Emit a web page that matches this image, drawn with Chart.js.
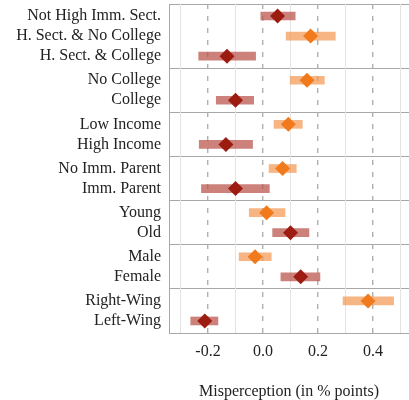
<!DOCTYPE html>
<html>
<head>
<meta charset="UTF-8">
<title>Misperception by group</title>
<script src="https://cdn.jsdelivr.net/npm/chart.js"></script>
<style>html,body{margin:0;background:#fff}</style>
</head>
<body>
<canvas id="c" width="409" height="400"></canvas>
<script>
// rows, top to bottom, and how many rows belong to each block
const categories = [
  'Not High Imm. Sect.', 'H. Sect. & No College', 'H. Sect. & College',
  'No College', 'College',
  'Low Income', 'High Income',
  'No Imm. Parent', 'Imm. Parent',
  'Young', 'Old',
  'Male', 'Female',
  'Right-Wing', 'Left-Wing'
];
const groupSizes = [3, 2, 2, 2, 2, 2, 2];
// 1 = orange series, 0 = dark red series
const series = [0, 1, 0, 1, 0, 1, 0, 1, 0, 1, 0, 1, 0, 1, 0];
const estimate = [0.053, 0.173, -0.131, 0.160, -0.100, 0.092, -0.135, 0.071, -0.100, 0.013, 0.100, -0.029, 0.137, 0.382, -0.212];
const ciLow    = [-0.008, 0.084, -0.234, 0.099, -0.170, 0.040, -0.232, 0.022, -0.224, -0.050, 0.035, -0.087, 0.065, 0.291, -0.263];
const ciHigh   = [0.117, 0.263, -0.027, 0.223, -0.034, 0.143, -0.038, 0.121, 0.023, 0.080, 0.167, 0.030, 0.207, 0.475, -0.164];
const xTicks = [-0.3, -0.2, -0.1, 0.0, 0.1, 0.2, 0.3, 0.4, 0.5];
const xTickLabels = ['', '-0.2', '', '0.0', '', '0.2', '', '0.4', ''];

// row positions on the y scale, with a bit of extra room between blocks
const GAP = 0.2;
const rowPos = [];
const separators = [-0.6];
let p = 0;
groupSizes.forEach(n => {
  for (let i = 0; i < n; i++) { rowPos.push(p); p += 1; }
  separators.push(p - 1 + 0.6);
  p += GAP;
});
const yMin = -0.6, yMax = separators[separators.length - 1];

const colors = {
  1: {bar: 'rgba(245,150,80,0.7)', dot: '#f07a1c'},
  0: {bar: 'rgba(185,80,72,0.72)', dot: '#9c1c12'}
};

function rowsOf(s) {
  return categories.map((_, i) => i).filter(i => series[i] === s);
}

Chart.defaults.font.family = "'Liberation Serif', serif";
Chart.defaults.color = '#222';

const isEven = v => Math.abs(Math.round(v * 10)) % 2 === 0;
const isSep = v => separators.some(s => Math.abs(s - v) < 1e-6);

new Chart(document.getElementById('c'), {
  data: {
    datasets: [0, 1].map(s => ({
      type: 'bar',
      data: rowsOf(s).map(i => ({y: rowPos[i], x: [ciLow[i], ciHigh[i]]})),
      backgroundColor: colors[s].bar,
      borderWidth: 0, barThickness: 8, grouped: false, order: 2
    })).concat([0, 1].map(s => ({
      type: 'scatter',
      data: rowsOf(s).map(i => ({y: rowPos[i], x: estimate[i]})),
      pointStyle: 'rectRot', pointRadius: 7.5,
      backgroundColor: colors[s].dot, borderWidth: 0, order: 1
    })))
  },
  options: {
    responsive: false,
    animation: false,
    indexAxis: 'y',
    layout: {autoPadding: false, padding: {top: 4, right: 0, bottom: 0, left: 0}},
    plugins: {legend: {display: false}, tooltip: {enabled: false}},
    scales: {
      y: {
        type: 'linear', reverse: true, min: yMin, max: yMax, offset: false,
        afterBuildTicks: sc => {
          sc.ticks = rowPos.concat(separators).sort((a, b) => a - b).map(v => ({value: v}));
        },
        afterFit: sc => { sc.width = 169; sc.paddingTop = 0; sc.paddingBottom = 0; },
        ticks: {
          autoSkip: false, padding: 8, font: {size: 16},
          callback: v => {
            const i = rowPos.findIndex(r => Math.abs(r - v) < 1e-6);
            return i >= 0 ? categories[i] : '';
          }
        },
        grid: {
          offset: false, drawTicks: false, lineWidth: 1,
          color: ctx => (ctx.tick && isSep(ctx.tick.value)) ? '#a8a8a8' : 'rgba(0,0,0,0)'
        },
        border: {display: true, color: '#a8a8a8', width: 1}
      },
      x: {
        type: 'linear', min: -0.342, max: 0.531,
        afterBuildTicks: sc => { sc.ticks = xTicks.map(v => ({value: v})); },
        afterFit: sc => { sc.height = 67; sc.paddingLeft = 0; sc.paddingRight = 0; },
        ticks: {
          autoSkip: false, padding: 9, font: {size: 16}, maxRotation: 0,
          callback: (v, i) => xTickLabels[i]
        },
        grid: {
          drawTicks: false,
          color: ctx => (ctx.tick && isEven(ctx.tick.value)) ? '#b0b0b0' : '#e4e4e4',
          lineWidth: ctx => (ctx.tick && isEven(ctx.tick.value)) ? 1.4 : 1
        },
        border: {
          display: true, color: '#a8a8a8', width: 1,
          dash: ctx => (ctx.tick && isEven(ctx.tick.value)) ? [5, 7] : []
        },
        title: {display: true, text: 'Misperception (in % points)', font: {size: 16}, padding: {top: 0, bottom: -1}}
      }
    }
  }
});
</script>
</body>
</html>
